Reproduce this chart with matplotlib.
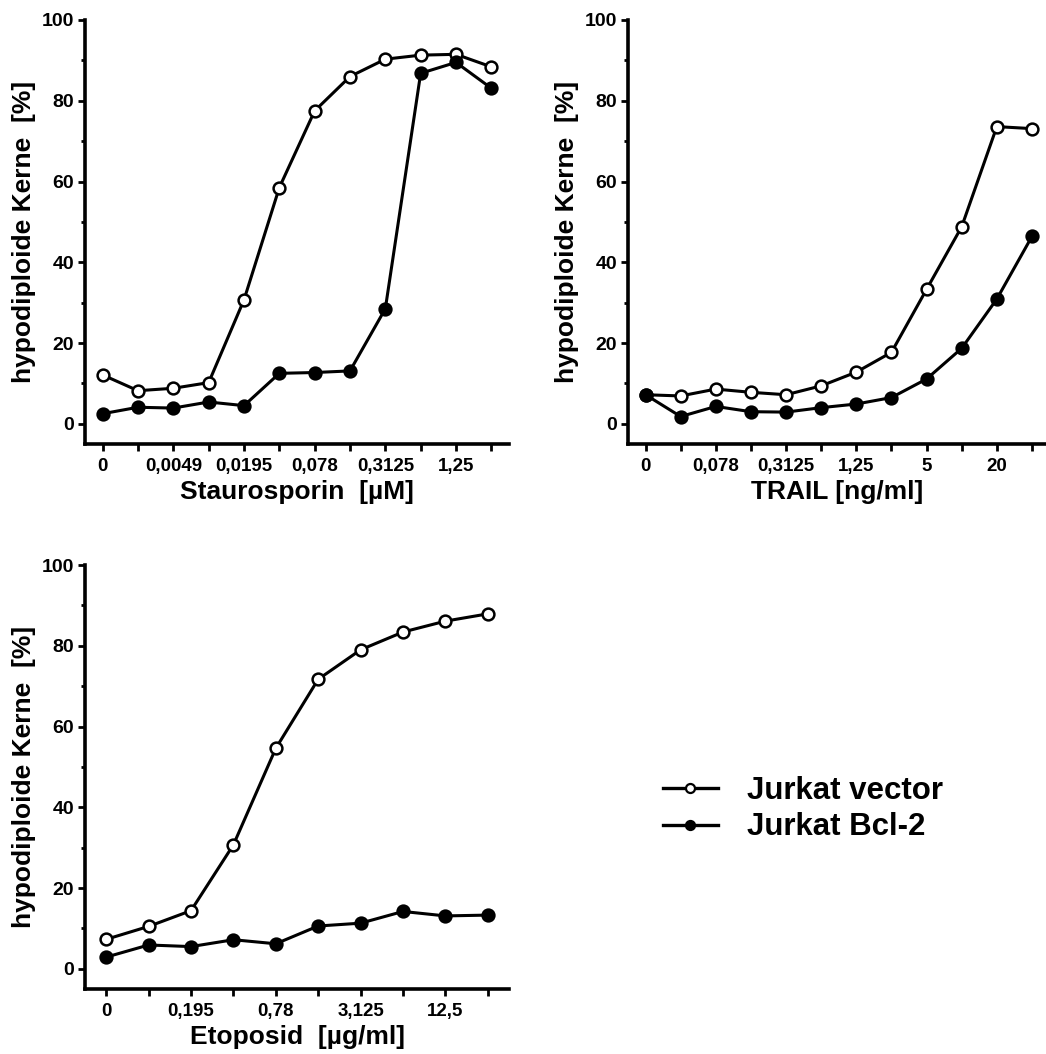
import matplotlib
matplotlib.use("Agg")
import matplotlib.pyplot as plt
from matplotlib.lines import Line2D
from matplotlib.ticker import MultipleLocator

plt.rcParams['font.family'] = ['Liberation Sans', 'DejaVu Sans']
plt.rcParams['font.weight'] = 'bold'

# ---- data ----
stauro_labels = ["0", "", "0,0049", "", "0,0195", "", "0,078", "", "0,3125", "", "1,25", ""]
stauro_vector = [12.1, 8.2, 8.8, 10.2, 30.7, 58.5, 77.5, 86.0, 90.3, 91.3, 91.5, 88.4]
stauro_bcl2 = [2.5, 4.1, 3.9, 5.4, 4.5, 12.5, 12.7, 13.1, 28.5, 86.8, 89.5, 83.1]

trail_labels = ["0", "", "0,078", "", "0,3125", "", "1,25", "", "5", "", "20", ""]
trail_vector = [7.2, 6.9, 8.6, 7.8, 7.2, 9.4, 12.8, 17.7, 33.3, 48.8, 73.6, 73.1]
trail_bcl2 = [7.2, 1.8, 4.3, 3.0, 2.9, 4.0, 4.9, 6.5, 11.1, 18.7, 30.9, 46.4]

etop_labels = ["0", "", "0,195", "", "0,78", "", "3,125", "", "12,5", ""]
etop_vector = [7.3, 10.5, 14.4, 30.7, 54.6, 71.7, 79.0, 83.4, 86.1, 87.9]
etop_bcl2 = [2.9, 5.9, 5.5, 7.2, 6.2, 10.6, 11.3, 14.2, 13.1, 13.3]

ylabel = "hypodiploide Kerne  [%]"
legend_labels = ["Jurkat vector", "Jurkat Bcl-2"]

W, H = 1046, 1054
fig = plt.figure(figsize=(W / 100, H / 100), dpi=100)


def ax_at(l, r, t, b):
    return fig.add_axes([l / W, 1 - b / H, (r - l) / W, (b - t) / H])


def panel(ax, labels, vec, bcl, xlabel, xmax):
    x = list(range(len(labels)))
    ax.plot(x, vec, color='black', lw=2.2, marker='o', ms=8.5, mfc='white',
            mec='black', mew=1.8, zorder=3, clip_on=False)
    ax.plot(x, bcl, color='black', lw=2.2, marker='o', ms=8.5, mfc='black',
            mec='black', mew=1.8, zorder=4, clip_on=False)
    ax.set_xlim(-0.5, xmax)
    ax.set_ylim(-5, 100)
    ax.set_xticks(x)
    ax.set_xticklabels(labels, fontsize=13.5, fontweight='bold')
    ax.set_yticks([0, 20, 40, 60, 80, 100])
    ax.yaxis.set_minor_locator(MultipleLocator(10))
    ax.tick_params(axis='y', which='major', length=5, width=2, labelsize=14, pad=3)
    ax.tick_params(axis='y', which='minor', length=3, width=2)
    ax.tick_params(axis='x', which='major', length=5, width=2, pad=5)
    for lab in ax.get_yticklabels():
        lab.set_fontweight('bold')
    for s in ['top', 'right']:
        ax.spines[s].set_visible(False)
    for s in ['left', 'bottom']:
        ax.spines[s].set_linewidth(2.6)
    ax.spines['left'].set_bounds(-5, 100)
    ax.set_xlabel(xlabel, fontsize=19, fontweight='bold', labelpad=4)
    ax.set_ylabel(ylabel, fontsize=19, fontweight='bold', labelpad=4)


ax1 = ax_at(85, 509, 20, 444)
panel(ax1, stauro_labels, stauro_vector, stauro_bcl2, "Staurosporin  [µM]", 11.5)

ax2 = ax_at(628, 1046, 20, 444)
panel(ax2, trail_labels, trail_vector, trail_bcl2, "TRAIL [ng/ml]", 11.4)

ax3 = ax_at(85, 509, 565, 989)
panel(ax3, etop_labels, etop_vector, etop_bcl2, "Etoposid  [µg/ml]", 9.5)

handles = [
    Line2D([], [], color='black', lw=2.4, marker='o', ms=6.5, mfc='white', mec='black', mew=1.6),
    Line2D([], [], color='black', lw=2.4, marker='o', ms=6.5, mfc='black', mec='black', mew=1.6),
]
fig.legend(handles, legend_labels, loc='center left',
           bbox_to_anchor=(663 / W, 1 - 809 / H), frameon=False,
           prop={'size': 22.5, 'weight': 'bold'}, handlelength=1.75,
           handletextpad=0.95, labelspacing=0.22, borderpad=0, borderaxespad=0)

fig.savefig("out.png", dpi=100)
